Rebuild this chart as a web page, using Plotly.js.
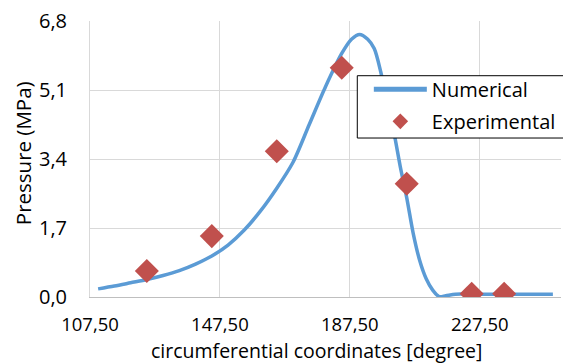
<!DOCTYPE html>
<html>
<head>
<meta charset="utf-8">
<script src="https://cdn.plot.ly/plotly-3.0.1.min.js"></script>
<style>
  html, body { margin: 0; padding: 0; background: #ffffff; }
  #chart { width: 563px; height: 363px; }
</style>
</head>
<body>
<div id="chart"></div>
<script>
// Numerical pressure profile along the circumference
const numAngle = [110, 115, 120, 125, 130, 135, 140, 145, 150, 155, 160, 165, 170, 175, 180, 185, 188, 190.5, 193, 195, 197, 199, 201, 203, 205, 207, 209, 211, 213, 215, 217, 220, 225, 230, 240, 250];
const numPressure = [0.20, 0.27, 0.35, 0.43, 0.53, 0.65, 0.81, 1.01, 1.28, 1.65, 2.12, 2.68, 3.32, 4.25, 5.18, 6.00, 6.35, 6.47, 6.35, 6.12, 5.55, 4.76, 4.08, 3.22, 2.45, 1.57, 0.90, 0.45, 0.17, 0.01, 0.03, 0.07, 0.07, 0.07, 0.07, 0.07];

// Measured pressure
const expAngle = [125, 145, 165, 185, 205, 225, 235];
const expPressure = [0.64, 1.50, 3.59, 5.65, 2.79, 0.08, 0.08];

// Axis ticks and titles
const xTickVals = [107.5, 147.5, 187.5, 227.5];
const xTickText = ['107,50', '147,50', '187,50', '227,50'];
const yTickVals = [0, 1.7, 3.4, 5.1, 6.8];
const yTickText = ['0,0', '1,7', '3,4', '5,1', '6,8'];
const xTitle = 'circumferential coordinates [degree]';
const yTitle = 'Pressure (MPa)';

const FONT = '"Open Sans", "DejaVu Sans", sans-serif';

const traces = [
  {
    x: numAngle, y: numPressure, name: 'Numerical', type: 'scatter', mode: 'lines',
    line: { color: '#5b9bd5', width: 3.5, shape: 'spline', smoothing: 0.8 },
    legendgroup: 'a'
  },
  {
    x: expAngle, y: expPressure, name: 'Experimental', type: 'scatter', mode: 'markers',
    marker: { symbol: 'diamond', color: '#c0504d', size: 18.5 },
    legendgroup: 'b'
  }
];

const layout = {
  width: 563, height: 363, autosize: false,
  margin: { l: 90, r: 2, t: 21, b: 66, pad: 0 },
  paper_bgcolor: '#ffffff', plot_bgcolor: '#ffffff',
  font: { family: FONT, size: 20, color: '#000000' },
  showlegend: true,
  // legend frame: white box with black outline, running off the right edge
  shapes: [{
    type: 'rect', xref: 'paper', yref: 'paper', layer: 'above',
    x0: 0.5675, x1: 1.08, y0: 0.576, y1: 0.8018,
    fillcolor: '#ffffff', line: { color: '#000000', width: 1 }
  }],
  legend: {
    x: 0.592, y: 0.823, xanchor: 'left', yanchor: 'top',
    bgcolor: 'rgba(0,0,0,0)', borderwidth: 0,
    font: { family: FONT, size: 20, color: '#000000' },
    itemsizing: 'constant', itemwidth: 53,
    traceorder: 'grouped', tracegroupgap: 3
  },
  // axis titles placed as free text so they can sit low in the margins
  annotations: [
    {
      text: xTitle, xref: 'paper', yref: 'paper', x: 0.481, y: -0.194,
      xanchor: 'center', yanchor: 'middle', showarrow: false,
      font: { family: FONT, size: 19.5, color: '#000000' }
    },
    {
      text: yTitle, xref: 'paper', yref: 'paper', x: -0.1423, y: 0.521,
      xanchor: 'center', yanchor: 'middle', showarrow: false, textangle: -90,
      font: { family: FONT, size: 20.5, color: '#000000' }
    }
  ],
  xaxis: {
    range: [107.5, 252.5], autorange: false,
    tickmode: 'array', tickvals: xTickVals, ticktext: xTickText,
    showgrid: true, gridcolor: '#d9d9d9', gridwidth: 1,
    showline: true, linecolor: '#bfbfbf', linewidth: 1,
    zeroline: false, ticks: '', ticklabelstandoff: 11,
    tickfont: { family: FONT, size: 18.5, color: '#000000' }
  },
  yaxis: {
    range: [0, 6.8], autorange: false,
    tickmode: 'array', tickvals: yTickVals, ticktext: yTickText,
    showgrid: true, gridcolor: '#d9d9d9', gridwidth: 1,
    showline: true, linecolor: '#d9d9d9', linewidth: 1,
    zeroline: false, ticks: '', ticklabelstandoff: 18,
    tickfont: { family: FONT, size: 20, color: '#000000' }
  }
};

Plotly.newPlot('chart', traces, layout, { staticPlot: true, displayModeBar: false });
</script>
</body>
</html>
